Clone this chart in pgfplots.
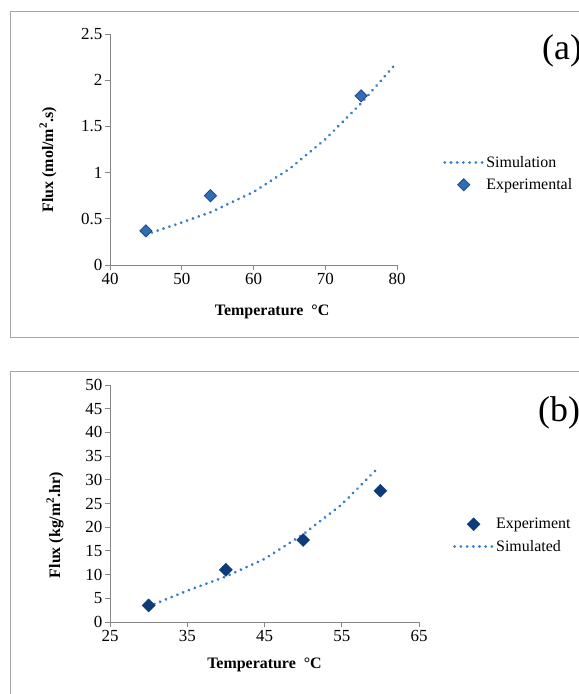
\documentclass[border=0pt]{standalone}
\usepackage{fontspec}
\setmainfont{Liberation Serif}
\usepackage{pgfplots}
\pgfplotsset{compat=1.18}

\definecolor{simblue}{HTML}{3A7CC8}
\definecolor{expfill}{HTML}{2F6DB5}
\definecolor{expedge}{HTML}{1F4A85}
\definecolor{navy}{HTML}{0D3B78}
\definecolor{axgray}{HTML}{868686}
\definecolor{boxgray}{HTML}{A6A6A6}

\pgfplotsset{
  panel/.style={
    scale only axis, clip=false,
    axis x line*=bottom, axis y line*=left,
    axis line style={axgray, line width=0.9bp},
    tick style={axgray, line width=0.9bp},
    tick align=outside, major tick length=5bp,
    tick label style={font=\fontsize{17}{19}\selectfont},
    yticklabel style={inner sep=2.5bp},
    /pgf/number format/assume math mode=true,
    /pgf/number format/fixed,
    label style={font=\fontsize{16}{18}\selectfont\bfseries},
    legend style={draw=none, fill=none, font=\fontsize{16}{18}\selectfont,
      anchor=west, row sep=6bp},
    legend cell align=left,
  },
  sim/.style={simblue, line width=3.1bp, line cap=round, dash pattern=on 0.01bp off 6.2bp,
    legend image code/.code={\draw[##1] (0bp,0bp) -- (38bp,0bp);}},
  dia/.style={only marks, mark=square*,
    legend image code/.code={\draw[mark repeat=2,mark phase=2,##1] plot coordinates {(0bp,0bp) (19bp,0bp) (38bp,0bp)};}},
}

\begin{document}
\begin{tikzpicture}
\useasboundingbox (0,0) rectangle (579bp,694bp);
\draw[boxgray, line width=1bp] (10bp,356bp) rectangle (600bp,682bp);
\draw[boxgray, line width=1bp] (10bp,-10bp) rectangle (600bp,322bp);

% panel (a)
\begin{axis}[panel,
    at={(110bp,429bp)}, anchor=south west,
    width=287bp, height=231bp,
    xmin=40, xmax=80, ymin=0, ymax=2.5,
    xtick={40,50,60,70,80}, ytick={0,0.5,1,1.5,2,2.5},
    xlabel={Temperature~~°C}, ylabel={Flux (mol/m\textsuperscript{2}.s)},
    xlabel style={at={(axis description cs:0.565,-0.205)}, anchor=center},
    ylabel style={at={(axis description cs:-0.216,0.455)}, anchor=center},
    legend style={at={(axis description cs:1.15,0.396)}},
]
\addplot[sim] coordinates {
(45,0.33)(50,0.46)(54,0.57)(60,0.79)(65,1.04)(70,1.36)(75,1.75)(79.5,2.15)};
\addlegendentry{Simulation}
\addplot[dia, mark size=4.3bp, mark options={rotate=45, fill=expfill, draw=expedge, line width=0.8bp}] coordinates {
(45,0.37)(54,0.75)(75,1.83)};
\addlegendentry{Experimental}
\end{axis}
\node[anchor=base west, font=\fontsize{36}{40}\selectfont, inner sep=0pt] at (542bp,634bp) {(a)};

% panel (b)
\begin{axis}[panel,
    at={(110bp,72bp)}, anchor=south west,
    width=309bp, height=237bp,
    xmin=25, xmax=65, ymin=0, ymax=50,
    xtick={25,35,45,55,65}, ytick={0,5,...,50},
    xlabel={Temperature~~°C}, ylabel={Flux (kg/m\textsuperscript{2}.hr)},
    xlabel style={at={(axis description cs:0.50,-0.183)}, anchor=center},
    ylabel style={at={(axis description cs:-0.178,0.409)}, anchor=center},
    legend style={at={(axis description cs:1.10,0.365)}},
]
\addplot[dia, mark size=4.6bp, mark options={rotate=45, fill=navy, draw=navy}] coordinates {
(30,3.5)(40,11)(50,17.3)(60,27.7)};
\addlegendentry{Experiment}
\addplot[sim] coordinates {
(30,3.3)(35,6.6)(40,9.6)(45,13.3)(50,18.5)(55,24.8)(59.5,32.2)};
\addlegendentry{Simulated}
\end{axis}
\node[anchor=base west, font=\fontsize{36}{40}\selectfont, inner sep=0pt] at (538bp,272bp) {(b)};
\end{tikzpicture}
\end{document}
